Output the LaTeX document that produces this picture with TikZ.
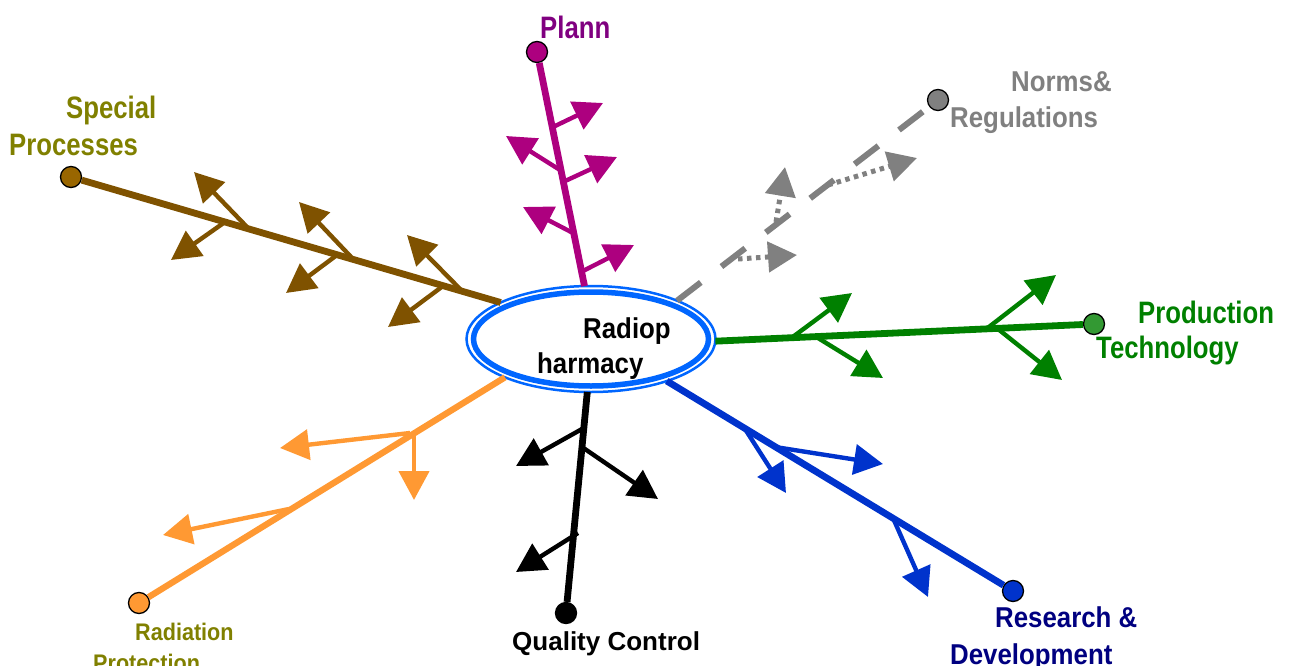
\documentclass[tikz,border=0pt]{standalone}
\usepackage{fontspec}
\setmainfont{Liberation Sans}
\newfontfamily\labtall[FakeStretch=0.83]{Liberation Sans}
\newfontfamily\labmid[FakeStretch=0.9]{Liberation Sans}
\usetikzlibrary{arrows.meta,shapes.geometric}

\definecolor{brn}{HTML}{7F5200}
\definecolor{brndot}{HTML}{996600}
\definecolor{mag}{HTML}{AD007F}
\definecolor{gry}{HTML}{808080}
\definecolor{grn}{HTML}{008000}
\definecolor{grndot}{HTML}{339933}
\definecolor{blu}{HTML}{0033CC}
\definecolor{org}{HTML}{FF9933}
\definecolor{olv}{HTML}{808000}
\definecolor{nav}{HTML}{000080}
\definecolor{pur}{HTML}{800080}
\definecolor{ring}{HTML}{0066FF}

\tikzset{
  trunk/.style={line width=6.8pt},
  twig/.style={line width=4.4pt, -{Triangle[length=29pt,width=30pt]}},
  dashtrunk/.style={line width=6pt, dash pattern=on 30pt off 26pt},
  dottwig/.style={line width=5pt, dash pattern=on 4.5pt off 4.5pt, -{Triangle[length=29pt,width=30pt]}},
  tipdot/.style={circle, draw=black, line width=1.3pt, minimum size=21pt, inner sep=0pt},
  lab/.style={anchor=base west, inner sep=0pt},
  labT/.style={lab, font=\labtall\bfseries\fontsize{31}{36}\selectfont},
  labM/.style={lab, font=\labmid\bfseries\fontsize{28.7}{34}\selectfont},
  labS/.style={lab, font=\labmid\bfseries\fontsize{24}{30}\selectfont},
  labQ/.style={lab, font=\bfseries\fontsize{26}{30}\selectfont},
}

\begin{document}
\begin{tikzpicture}[x=1pt,y=-1pt]
\useasboundingbox (0,0) rectangle (1295,666);

% central double ring
\node[ellipse, draw=ring, line width=2.5pt, fill=white, minimum width=249pt,
      minimum height=106pt, inner sep=0pt, outer sep=0pt] (hub) at (591,339) {};
\node[ellipse, draw=ring, line width=5.5pt, fill=white, minimum width=235pt,
      minimum height=94pt, inner sep=0pt] (hubcore) at (hub.center) {};
\node[labM, text=black] (hubA) at (583,338) {Radiop};
\node[labM, text=black] (hubB) at (537,373) {harmacy};

% end points of the seven branches
\node[tipdot, fill=brndot] (dSP) at (71,177) {};
\node[tipdot, fill=mag]    (dPL) at (537,52) {};
\node[tipdot, fill=gry]    (dNR) at (938,100) {};
\node[tipdot, fill=grndot] (dPT) at (1094,324) {};
\node[tipdot, fill=blu]    (dRD) at (1013,591) {};
\node[tipdot, fill=black]  (dQC) at (566,613) {};
\node[tipdot, fill=org]    (dRP) at (139,603) {};

% trunks
\draw[trunk, brn] (hub.158) -- (dSP);
\draw[trunk, mag] (hub.97.7) -- (dPL);
\draw[dashtrunk, gry] (hub.24.3) -- (dNR);
\draw[trunk, grn] (hub.-1.9) -- (dPT);
\draw[trunk, blu] (hub.-29.3) -- (dRD);
\draw[trunk, black] (hub.-94.2) -- (dQC);
\draw[trunk, org, line width=6.3pt] (hub.-156.4) -- (dRP);

% special processes twigs
\coordinate (sa1) at (247,227); \coordinate (st1) at (194,172);
\coordinate (sa2) at (225,222); \coordinate (st2) at (171,260);
\coordinate (sa3) at (353,259); \coordinate (st3) at (299,202);
\coordinate (sa4) at (337,255); \coordinate (st4) at (286,293);
\coordinate (sa5) at (462,291); \coordinate (st5) at (407,235);
\coordinate (sa6) at (443,286); \coordinate (st6) at (388,327);
\draw[twig, brn] (sa1) -- (st1);
\draw[twig, brn] (sa2) -- (st2);
\draw[twig, brn] (sa3) -- (st3);
\draw[twig, brn] (sa4) -- (st4);
\draw[twig, brn] (sa5) -- (st5);
\draw[twig, brn] (sa6) -- (st6);

% planning twigs
\coordinate (pa1) at (553,127); \coordinate (pt1) at (603,103);
\coordinate (pa2) at (560,170); \coordinate (pt2) at (506,136);
\coordinate (pa3) at (563,182); \coordinate (pt3) at (617,157);
\coordinate (pa4) at (573,233); \coordinate (pt4) at (523,207);
\coordinate (pa5) at (581,272); \coordinate (pt5) at (634,245);
\draw[twig, mag] (pa1) -- (pt1);
\draw[twig, mag] (pa2) -- (pt2);
\draw[twig, mag] (pa3) -- (pt3);
\draw[twig, mag] (pa4) -- (pt4);
\draw[twig, mag] (pa5) -- (pt5);

% norms and regulations twigs
\coordinate (na1) at (738,259); \coordinate (nt1) at (797,255);
\coordinate (na2) at (776,222); \coordinate (nt2) at (785,167);
\coordinate (na3) at (828,185); \coordinate (nt3) at (917,158);
\draw[dottwig, gry] (na1) -- (nt1);
\draw[dottwig, gry] (na2) -- (nt2);
\draw[dottwig, gry] (na3) -- (nt3);

% production technology twigs
\coordinate (ga1) at (790,339); \coordinate (gt1) at (852,293);
\coordinate (ga2) at (818,338); \coordinate (gt2) at (883,378);
\coordinate (ga3) at (985,330); \coordinate (gt3) at (1056,275);
\coordinate (ga4) at (998,329); \coordinate (gt4) at (1062,380);
\draw[twig, grn] (ga1) -- (gt1);
\draw[twig, grn] (ga2) -- (gt2);
\draw[twig, grn] (ga3) -- (gt3);
\draw[twig, grn] (ga4) -- (gt4);

% research and development twigs
\coordinate (ra1) at (745,429); \coordinate (rt1) at (786,493);
\coordinate (ra2) at (775,447); \coordinate (rt2) at (883,464);
\coordinate (ra3) at (893,518); \coordinate (rt3) at (928,597);
\draw[twig, blu] (ra1) -- (rt1);
\draw[twig, blu] (ra2) -- (rt2);
\draw[twig, blu] (ra3) -- (rt3);

% quality control twigs
\coordinate (qa1) at (582,429); \coordinate (qt1) at (516,466);
\coordinate (qa2) at (582,447); \coordinate (qt2) at (658,499);
\coordinate (qa3) at (578,533); \coordinate (qt3) at (516,572);
\draw[twig, black] (qa1) -- (qt1);
\draw[twig, black] (qa2) -- (qt2);
\draw[twig, black] (qa3) -- (qt3);

% radiation protection twigs
\coordinate (oa1) at (410,433); \coordinate (ot1) at (280,448);
\coordinate (oa2) at (414,432); \coordinate (ot2) at (414,500);
\coordinate (oa3) at (289,509); \coordinate (ot3) at (163,535);
\draw[twig, org] (oa1) -- (ot1);
\draw[twig, org] (oa2) -- (ot2);
\draw[twig, org] (oa3) -- (ot3);

% labels
\node[labT, text=pur] (lPL) at (540,39) {Plann};
\node[labT, text=olv] (lSP1) at (66,119) {Special};
\node[labT, text=olv] (lSP2) at (9,155) {Processes};
\node[labM, text=gry] (lNR1) at (1011,92) {Norms\&};
\node[labM, text=gry] (lNR2) at (950,128) {Regulations};
\node[labT, text=grn] (lPT1) at (1138,323) {Production};
\node[labT, text=grn] (lPT2) at (1096,358) {Technology};
\node[labM, text=nav] (lRD1) at (995,627) {Research \&};
\node[labM, text=nav] (lRD2) at (950,664) {Development};
\node[labQ, text=black] (lQC) at (512,650) {Quality Control};
\node[labS, text=olv] (lRP1) at (135,640) {Radiation};
\node[labS, text=olv] (lRP2) at (93,671) {Protection};
\end{tikzpicture}
\end{document}
